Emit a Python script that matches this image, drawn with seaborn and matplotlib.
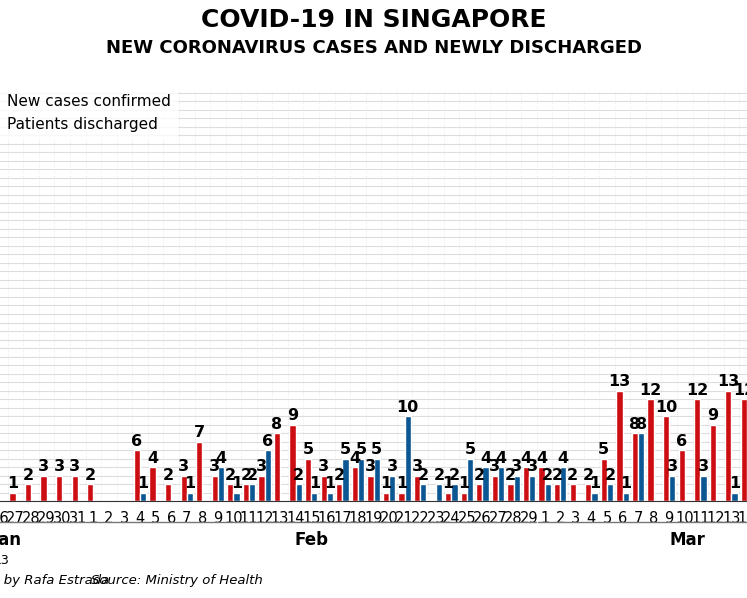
import numpy as np
import pandas as pd
import seaborn as sns
from matplotlib import pyplot as plt
from matplotlib.transforms import blended_transform_factory

days = ['26', '27', '28', '29', '30', '31'] + [str(d) for d in range(1, 30)] + [str(d) for d in range(1, 15)]
new_cases = [0, 1, 2, 3, 3, 3,
             2, 0, 0, 6, 4, 2, 3, 7, 3, 2, 2, 3, 8, 9, 5, 3, 2, 4, 3, 1, 1, 3, 0, 1, 1, 2, 3, 2, 4,
             4, 2, 2, 2, 5, 13, 8, 12, 10, 6, 12, 9, 13, 12]
discharged = [0, 0, 0, 0, 0, 0,
              0, 0, 0, 1, 0, 0, 1, 0, 4, 1, 2, 6, 0, 2, 1, 1, 5, 5, 5, 3, 10, 2, 2, 2, 5, 4, 4, 3, 3,
              2, 4, 0, 1, 2, 1, 8, 0, 3, 0, 3, 0, 1, 0]
series_names = ['New cases confirmed', 'Patients discharged']
months = ['Jan', 'Feb', 'Mar']

red = '#cc0e12'
blue = '#0b5794'

df = pd.DataFrame({
    'day': list(range(len(days))) * 2,
    'value': new_cases + discharged,
    'series': [series_names[0]] * len(days) + [series_names[1]] * len(days),
})

sns.set_style('white')
plt.rcParams['font.family'] = ['Liberation Sans Narrow', 'DejaVu Sans']
plt.rcParams['text.color'] = 'black'
plt.rcParams['xtick.color'] = 'black'

fig = plt.figure(figsize=(7.47, 5.98), dpi=100)
ax = fig.add_axes([0, 0.162, 1, 0.687])

ax.set_yticks(np.arange(0, 49, 1))
ax.yaxis.grid(True, color='#dddddd', linewidth=0.8)
ax.set_axisbelow(True)
for i in range(len(days)):
    ax.axvline(i + 0.5, color='#e6e6e6', linewidth=0.6, linestyle=':', zorder=0)

sns.barplot(data=df, x='day', y='value', hue='series', palette=[red, blue],
            width=0.8, ax=ax, saturation=1, legend=True)

for cont in ax.containers:
    labels = [str(int(v)) if v > 0 else '' for v in cont.datavalues]
    ax.bar_label(cont, labels=labels, padding=1, fontsize=11.5, fontweight='bold')

ax.set_xlim(0.37, 47.6)
ax.set_ylim(0, 48.3)
ax.set_xticks(range(len(days)))
ax.set_xticklabels(days, fontsize=10.5)
ax.set_yticklabels([])
ax.tick_params(axis='y', length=0)
ax.tick_params(axis='x', length=0, pad=7)
ax.set_xlabel('')
ax.set_ylabel('')
for s in ['top', 'right', 'left']:
    ax.spines[s].set_visible(False)
ax.spines['bottom'].set_color('#333333')

# month underlines and names
tr = blended_transform_factory(ax.transData, ax.transAxes)
for (x0, x1) in [(-2, 5.45), (5.55, 34.45), (34.55, 52)]:
    ax.plot([x0, x1], [-0.051, -0.051], color='#777777', linewidth=1, transform=tr, clip_on=False)
for name, xpos in zip(months, [0.5, 20.0, 44.2]):
    ax.text(xpos, -0.095, name, transform=tr, fontsize=12, fontweight='bold', ha='center', va='center')

leg = ax.legend(loc='upper left', bbox_to_anchor=(-0.04, 1.005), frameon=True, fontsize=11,
                handlelength=1.2, borderaxespad=0, labelspacing=0.5)
leg.get_frame().set_facecolor('white')
leg.get_frame().set_edgecolor('white')

fig.text(0.5, 0.967, 'COVID-19 IN SINGAPORE', ha='center', va='center', fontsize=18, fontweight='bold')
fig.text(0.5, 0.92, 'NEW CORONAVIRUS CASES AND NEWLY DISCHARGED', ha='center', va='center',
         fontsize=13, fontweight='bold')
fig.text(-0.008, 0.062, '13', fontsize=9, va='center')
fig.text(-0.07, 0.03, 'Graphic by Rafa Estrada', fontsize=9.5, style='italic', va='center', ha='left')
fig.text(0.122, 0.03, 'Source: Ministry of Health', fontsize=9.5, style='italic', va='center')

fig.savefig('out.png', dpi=100)
